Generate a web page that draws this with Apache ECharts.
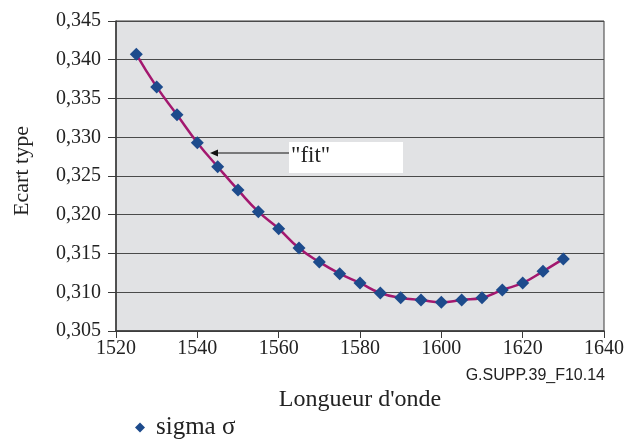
<!DOCTYPE html>
<html>
<head>
<meta charset="utf-8">
<script src="https://cdn.jsdelivr.net/npm/echarts@6/dist/echarts.min.js"></script>
<style>html,body{margin:0;padding:0;background:#fff}#c{width:627px;height:439px}</style>
</head>
<body>
<div id="c"></div>
<script>
const wavelengths = [1525,1530,1535,1540,1545,1550,1555,1560,1565,1570,1575,1580,1585,1590,1595,1600,1605,1610,1615,1620,1625,1630];
const sigmaValues = [0.3407,0.3365,0.3329,0.3293,0.3262,0.3232,0.3204,0.3182,0.3157,0.3139,0.3124,0.3112,0.3099,0.3093,0.3090,0.3087,0.3090,0.3093,0.3103,0.3112,0.3127,0.3143];
const seriesName = 'sigma σ';
const xTitle = "Longueur d'onde";
const yTitle = 'Ecart type';
const noteText = 'G.SUPP.39_F10.14';
const fitLabel = '"fit"';

const serif = '"Liberation Serif", "Times New Roman", serif';
const chart = echarts.init(document.getElementById('c'));
chart.setOption({
  animation: false,
  grid: { left: 116, right: 20, top: 21, bottom: 108, show: true, backgroundColor: '#e1e2e4', borderColor: '#3a3a3a', borderWidth: 1 },
  legend: {
    left: 130, top: 410, itemWidth: 10, itemHeight: 10, itemGap: 10,
    data: [{ name: seriesName, icon: 'diamond', itemStyle: { color: '#1d4b8c' } }],
    textStyle: { fontFamily: serif, fontSize: 25, color: '#222', padding: [0, 0, 10, 6] }
  },
  xAxis: {
    type: 'value', min: 1520, max: 1640, interval: 20,
    axisLine: { onZero: false, lineStyle: { color: '#3a3a3a', width: 1.5 } },
    axisTick: { show: true, length: 7, lineStyle: { color: '#3a3a3a' } },
    axisLabel: { fontFamily: serif, fontSize: 20, color: '#222', margin: 8, formatter: v => String(v) },
    splitLine: { show: false }
  },
  yAxis: {
    type: 'value', min: 0.305, max: 0.345, interval: 0.005,
    axisLine: { show: true, lineStyle: { color: '#3a3a3a', width: 1.5 } },
    axisTick: { show: true, length: 8, lineStyle: { color: '#3a3a3a' } },
    axisLabel: { fontFamily: serif, fontSize: 20, color: '#222', margin: 15, formatter: v => v.toFixed(3).replace('.', ',') },
    splitLine: { show: true, lineStyle: { color: '#4a4a4a', width: 1 } }
  },
  series: [{
    name: seriesName, type: 'line', smooth: true,
    data: wavelengths.map((w, i) => [w, sigmaValues[i]]),
    symbol: 'diamond', symbolSize: 13,
    lineStyle: { color: '#a3186f', width: 2.5 },
    itemStyle: { color: '#1d4b8c' }
  }],
  graphic: [
    { type: 'text', style: { text: xTitle, fontFamily: serif, fontSize: 24, fill: '#222', align: 'center', verticalAlign: 'middle' }, x: 360, y: 400 },
    { type: 'text', style: { text: yTitle, fontFamily: serif, fontSize: 22, fill: '#222', align: 'center', verticalAlign: 'middle' }, x: 22, y: 171, rotation: Math.PI / 2 },
    { type: 'text', style: { text: noteText, fontFamily: '"Liberation Sans", Arial, sans-serif', fontSize: 16, fill: '#222', align: 'right', verticalAlign: 'middle' }, x: 605, y: 376 },
    { type: 'rect', shape: { x: 289, y: 142, width: 114, height: 31 }, style: { fill: '#fff' }, z: 10 },
    { type: 'text', style: { text: fitLabel, fontFamily: serif, fontSize: 23, fill: '#222', verticalAlign: 'middle' }, x: 291, y: 156, z: 11 },
    { type: 'line', shape: { x1: 289, y1: 153, x2: 214, y2: 153 }, style: { stroke: '#111', lineWidth: 1 }, z: 10 },
    { type: 'polygon', shape: { points: [[210, 153], [218, 149.5], [218, 156.5]] }, style: { fill: '#111' }, z: 10 }
  ]
});
</script>
</body>
</html>
